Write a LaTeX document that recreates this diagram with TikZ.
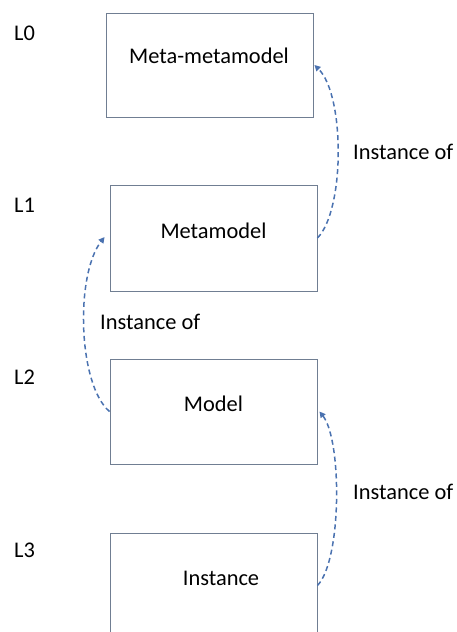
\documentclass[tikz,border=0pt]{standalone}
\usepackage{fontspec}
\setmainfont{Carlito}
\usetikzlibrary{arrows.meta}
\definecolor{boxline}{RGB}{112,126,146}
\definecolor{linkblue}{RGB}{74,114,176}
\begin{document}
\begin{tikzpicture}[x=1pt,y=-1pt,
  every node/.style={font=\fontsize{22.4}{26}\selectfont, text=black},
  levelbox/.style={draw=boxline, line width=0.9pt, minimum width=207pt, minimum height=105pt, inner sep=0pt},
  boxtext/.style={inner sep=0pt, anchor=center},
  levellabel/.style={anchor=west, inner sep=0pt},
  linklabel/.style={anchor=west, inner sep=0pt},
  instlink/.style={draw=linkblue, line width=1.5pt, dash pattern=on 5pt off 3.5pt,
    -{Triangle[length=6pt,width=6pt]}}]
\useasboundingbox (0,0) rectangle (456,632);

% level boxes
\node[levelbox, minimum height=104pt] (mm) at (209.5,65) {};
\node[levelbox, minimum height=106pt] (meta) at (213.5,238) {};
\node[levelbox] (model) at (213.5,411.5) {};
\node[levelbox] (inst) at (213.5,585.5) {};

% box captions
\node[boxtext] (mmtxt) at (209,56) {Meta-metamodel};
\node[boxtext] (metatxt) at (213.5,231) {Metamodel};
\node[boxtext] (modeltxt) at (213.5,404) {Model};
\node[boxtext] (insttxt) at (221,578) {Instance};

% level markers
\node[levellabel] (l0) at (14,33) {L0};
\node[levellabel] (l1) at (14,205) {L1};
\node[levellabel] (l2) at (14,377) {L2};
\node[levellabel] (l3) at (14,550) {L3};

% instance-of relations
\draw[instlink] (meta.east) .. controls (345,210) and (345,95) .. ([xshift=1pt]mm.east);
\draw[instlink] (model.west) .. controls (78,385) and (75,275) .. ([xshift=-5pt,yshift=1pt]meta.west);
\draw[instlink] (inst.east) .. controls (342,560) and (342,440) .. ([xshift=2pt]model.east);

\node[linklabel] (lab1) at (353,152) {Instance of};
\node[linklabel] (lab2) at (100,322) {Instance of};
\node[linklabel] (lab3) at (353,492) {Instance of};
\end{tikzpicture}
\end{document}
